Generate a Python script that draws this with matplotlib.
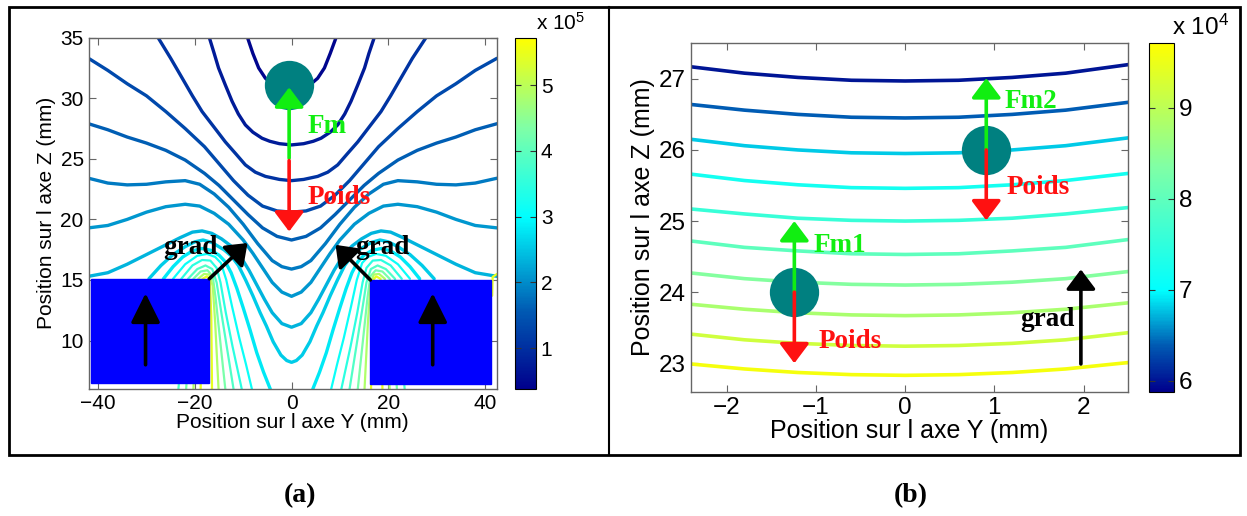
import matplotlib
matplotlib.use('Agg')
import matplotlib.pyplot as plt
import numpy as np
from matplotlib.colors import LinearSegmentedColormap, Normalize
from matplotlib.cm import ScalarMappable
from matplotlib.patches import Rectangle
from matplotlib.lines import Line2D

plt.rcParams['font.family'] = ['Liberation Sans', 'DejaVu Sans']
plt.rcParams['mathtext.fontset'] = 'custom'
plt.rcParams['mathtext.rm'] = 'Liberation Sans'
plt.rcParams['mathtext.default'] = 'regular'

# ---------- (a) contour lines, values in 1e5 ----------
left_levels = [0.45, 0.75, 1.05, 1.35, 1.6, 1.85, 2.1, 2.35, 2.55,
               2.8, 2.8, 3.1, 3.1, 3.45, 3.45, 3.85, 3.85, 4.3, 4.3,
               4.85, 4.85, 5.45, 5.45, 5.45]
left_y = [
    [-9.1, -8.0, -6.8, -5.4, -3.5, -1.5, 0, 1.5, 3.5, 5.4, 6.8, 8.0, 9.2],
    [-17.0, -16.0, -15.1, -13.7, -12.3, -11.0, -9.55, -8.0, -6.1, -4.5, -2.5, 0,
     2.5, 4.5, 6.1, 8.0, 9.55, 11.0, 12.3, 13.7, 15.1, 16.0, 17.1],
    [-27.6, -25.0, -22.6, -20.5, -18.5, -16.0, -13.7, -11.5, -9.55, -7.5, -5.4, -2.5, 0,
     2.5, 5.4, 7.5, 9.55, 11.5, 13.7, 16.0, 18.5, 20.5, 22.6, 25.0, 27.8],
    [-42, -38, -34, -30, -26, -22, -18, -15, -12, -9, -6, -3, 0,
     3, 6, 9, 12, 15, 18, 22, 26, 30, 34, 38, 42.5],
    [-42, -38, -34, -30, -26, -22, -18, -15, -12, -9, -6, -3, 0,
     3, 6, 9, 12, 15, 18, 22, 26, 30, 34, 38, 42.5],
    [-42, -38, -34, -30, -26, -22, -19, -16, -13, -10, -7, -4, -2, 0,
     2, 4, 7, 10, 13, 16, 19, 22, 26, 30, 34, 38, 42.5],
    [-42, -38, -34, -30, -26, -22, -19, -16, -13, -10, -8, -6, -4, -2, 0,
     2, 4, 6, 8, 10, 13, 16, 19, 22, 26, 30, 34, 38, 42.5],
    [-42, -38, -34, -30, -26, -23, -20.5, -18.5, -16.5, -14.5, -12.5, -10.5, -8.8, -7.2, -5.6, -4, -2, 0,
     2, 4, 5.6, 7.2, 8.8, 10.5, 12.5, 14.5, 16.5, 18.5, 20.5, 23, 26, 30, 34, 38, 42.5],
    [-29.5, -27, -24.5, -22, -20, -18.3, -16.5, -14, -12.5, -11, -9.5, -8, -6.5, -5.2, -3.8, -2.2, -1, 0,
     1, 2.2, 3.8, 5.2, 6.5, 8, 9.5, 11, 12.5, 14, 16.5, 18.3, 20, 22, 24.5, 27, 29.5],
    [-26.5, -24.5, -22.5, -20.5, -18.6, -16.7, -15.0, -13.7, -12.5, -11.3, -10.0, -8.6, -7.2, -5.8, -4.4],
    [26.5, 24.5, 22.5, 20.5, 18.6, 16.7, 15.0, 13.7, 12.5, 11.3, 10.0, 8.6, 7.2, 5.8, 4.4],
    [-24.5, -22.0, -19.5, -17.5, -15.8, -14.6, -13.5, -12.3, -10.8, -9.4, -8.2],
    [24.5, 22.0, 19.5, 17.5, 15.8, 14.6, 13.5, 12.3, 10.8, 9.4, 8.2],
    [-22.8, -20.5, -18.5, -16.8, -15.5, -14.7, -13.6, -12.2, -10.3],
    [22.8, 20.5, 18.5, 16.8, 15.5, 14.7, 13.6, 12.2, 10.3],
    [-23.4, -21.4, -19.5, -17.8, -16.4, -15.5, -14.6, -13.4, -12.0],
    [23.4, 21.4, 19.5, 17.8, 16.4, 15.5, 14.6, 13.4, 12.0],
    [-21.8, -20.3, -18.8, -17.4, -16.3, -15.7, -14.9, -13.7],
    [21.8, 20.3, 18.8, 17.4, 16.3, 15.7, 14.9, 13.7],
    [-20.3, -19.3, -18.1, -17.0, -16.3, -15.8, -15.1],
    [20.3, 19.3, 18.1, 17.0, 16.3, 15.8, 15.1],
    [-18.8, -18.4, -17.5, -16.9, -16.6, -16.45],
    [18.8, 18.4, 17.5, 16.9, 16.6, 16.45],
    [41.5, 41.6, 42.5],
]
left_z = [
    [35.0, 33.7, 32.5, 31.65, 31.0, 30.75, 30.7, 30.75, 31.0, 31.65, 32.5, 33.7, 35.0],
    [35.0, 33.7, 32.5, 31.1, 29.75, 28.7, 27.8, 27.2, 26.7, 26.45, 26.25, 26.15,
     26.25, 26.45, 26.7, 27.2, 27.8, 28.7, 29.75, 31.1, 32.5, 33.7, 35.0],
    [35.0, 33.3, 31.65, 30.2, 28.9, 27.6, 26.4, 25.4, 24.5, 23.9, 23.55, 23.3, 23.2,
     23.3, 23.55, 23.9, 24.5, 25.4, 26.4, 27.6, 28.9, 30.2, 31.65, 33.3, 35.0],
    [33.3, 32.3, 31.2, 30.2, 28.9, 27.5, 26.0, 24.6, 23.2, 22.0, 21.1, 20.7, 20.6,
     20.7, 21.1, 22.0, 23.2, 24.6, 26.0, 27.5, 28.9, 30.2, 31.2, 32.3, 33.3],
    [27.9, 27.4, 26.8, 26.3, 25.7, 24.9, 23.8, 22.8, 21.6, 20.4, 19.3, 18.6, 18.3,
     18.6, 19.3, 20.4, 21.6, 22.8, 23.8, 24.9, 25.7, 26.3, 26.8, 27.4, 27.9],
    [23.4, 23.0, 22.85, 22.9, 23.1, 23.2, 22.9, 22.1, 21.0, 19.6, 18.0, 16.6, 16.1, 15.9,
     16.1, 16.6, 18.0, 19.6, 21.0, 22.1, 22.9, 23.2, 23.1, 22.9, 22.85, 23.0, 23.4],
    [19.3, 19.5, 20.0, 20.6, 21.05, 21.25, 21.1, 20.5, 19.6, 18.3, 17.2, 16.0, 14.8, 14.0, 13.65,
     14.0, 14.8, 16.0, 17.2, 18.3, 19.6, 20.5, 21.1, 21.25, 21.05, 20.6, 20.0, 19.5, 19.3],
    [15.3, 15.6, 16.3, 17.1, 17.9, 18.5, 18.95, 19.05, 18.85, 18.4, 17.8, 16.9, 15.8, 14.6, 13.4, 12.3, 11.4, 11.1,
     11.4, 12.3, 13.4, 14.6, 15.8, 16.9, 17.8, 18.4, 18.85, 19.05, 18.95, 18.5, 17.9, 17.1, 16.3, 15.6, 15.3],
    [15.1, 16.2, 17.1, 17.75, 18.15, 18.3, 18.1, 17.5, 17.0, 16.2, 15.0, 13.7, 12.3, 11.2, 9.9, 8.8, 8.35, 8.2,
     8.35, 8.8, 9.9, 11.2, 12.3, 13.7, 15.0, 16.2, 17.0, 17.5, 18.1, 18.3, 18.15, 17.75, 17.1, 16.2, 15.1],
    [15.1, 16.1, 16.9, 17.4, 17.6, 17.45, 17.05, 16.5, 15.6, 14.3, 12.7, 10.9, 9.0, 7.4, 6.0],
    [15.1, 16.1, 16.9, 17.4, 17.6, 17.45, 17.05, 16.5, 15.6, 14.3, 12.7, 10.9, 9.0, 7.4, 6.0],
    [15.1, 16.3, 17.0, 17.15, 16.9, 16.4, 15.0, 12.8, 10.2, 8.0, 6.0],
    [15.1, 16.3, 17.0, 17.15, 16.9, 16.4, 15.0, 12.8, 10.2, 8.0, 6.0],
    [15.1, 16.2, 16.65, 16.6, 16.0, 14.8, 12.3, 9.5, 6.0],
    [15.1, 16.2, 16.65, 16.6, 16.0, 14.8, 12.3, 9.5, 6.0],
    [6.0, 15.1, 15.9, 16.2, 15.9, 14.8, 12.5, 9.5, 6.0],
    [6.0, 15.1, 15.9, 16.2, 15.9, 14.8, 12.5, 9.5, 6.0],
    [6.0, 15.1, 15.7, 15.8, 15.3, 13.5, 10.5, 6.0],
    [6.0, 15.1, 15.7, 15.8, 15.3, 13.5, 10.5, 6.0],
    [6.0, 15.1, 15.5, 15.45, 14.5, 11.5, 6.0],
    [6.0, 15.1, 15.5, 15.45, 14.5, 11.5, 6.0],
    [6.0, 15.1, 15.3, 15.0, 12.0, 6.0],
    [6.0, 15.1, 15.3, 15.0, 12.0, 6.0],
    [13.7, 15.25, 15.5],
]

# magnets (Y0, Z0, Y1, Z1)
magnets = [(-41.5, 6.5, -17.0, 15.1), (16.3, 6.4, 41.3, 15.0)]
bead_a = (-0.6, 31.1)
arrows_a = [((-0.5, 25.05), (-0.5, 30.9), '#11ee11'),
            ((-0.5, 24.85), (-0.5, 19.0), '#ff1111'),
            ((-17.0, 15.1), (-9.1, 18.05), 'black'),
            ((16.3, 15.0), (9.1, 17.9), 'black'),
            ((-30.2, 8.0), (-30.2, 13.9), 'black'),
            ((29.2, 8.0), (29.2, 13.9), 'black')]
labels_a = [('Fm', 3.3, 27.7, '#11ee11', 'left'),
            ('Poids', 3.3, 21.8, '#ff1111', 'left'),
            ('grad', -20.9, 17.7, 'black', 'center'),
            ('grad', 18.8, 17.7, 'black', 'center')]

# ---------- (b) contour lines, values in 1e4 ----------
right_levels = [6.0, 6.4, 6.8, 7.2, 7.6, 8.0, 8.4, 8.8, 9.2, 9.6]
right_y = [-2.4, -1.8, -1.2, -0.6, 0, 0.6, 1.2, 1.8, 2.5]
right_z = [
    [27.17, 27.08, 27.02, 26.98, 26.97, 26.98, 27.02, 27.08, 27.20],
    [26.64, 26.56, 26.50, 26.46, 26.45, 26.46, 26.50, 26.56, 26.67],
    [26.15, 26.06, 26.00, 25.96, 25.95, 25.96, 26.00, 26.06, 26.17],
    [25.66, 25.57, 25.51, 25.47, 25.46, 25.47, 25.51, 25.57, 25.67],
    [25.17, 25.10, 25.04, 25.01, 25.00, 25.01, 25.04, 25.10, 25.19],
    [24.72, 24.63, 24.58, 24.54, 24.53, 24.54, 24.58, 24.63, 24.74],
    [24.27, 24.19, 24.14, 24.11, 24.10, 24.11, 24.14, 24.19, 24.29],
    [23.83, 23.76, 23.71, 23.68, 23.67, 23.68, 23.71, 23.76, 23.85],
    [23.41, 23.33, 23.28, 23.25, 23.24, 23.25, 23.28, 23.33, 23.43],
    [22.99, 22.92, 22.87, 22.84, 22.83, 22.84, 22.87, 22.92, 23.01],
]
beads_b = [(-1.24, 24.0), (0.91, 26.0)]
arrows_b = [((-1.24, 24.0), (-1.24, 25.0), '#11ee11'),
            ((-1.24, 24.0), (-1.24, 23.0), '#ff1111'),
            ((0.91, 26.0), (0.91, 27.01), '#11ee11'),
            ((0.91, 26.0), (0.91, 25.01), '#ff1111'),
            ((1.97, 22.99), (1.97, 24.32), 'black')]
labels_b = [('Fm1', -1.02, 24.65, '#11ee11', 'left'),
            ('Poids', -0.97, 23.3, '#ff1111', 'left'),
            ('Fm2', 1.12, 26.68, '#11ee11', 'left'),
            ('Poids', 1.14, 25.47, '#ff1111', 'left'),
            ('grad', 1.9, 23.62, 'black', 'right')]


def make_cmap(c):
    nodes = [(0.0, (0.0, 0.0, 0.55)), (c * 0.45, (0.0, 0.35, 0.7)), (c, (0.0, 1.0, 1.0)),
             (c + (1 - c) * 0.5, (0.5, 1.0, 0.65)), (1.0, (1.0, 1.0, 0.0))]
    return LinearSegmentedColormap.from_list('mag', nodes)


def style_axes(ax, fs):
    for s in ax.spines.values():
        s.set_color('0.4')
        s.set_linewidth(1.0)
    ax.tick_params(direction='in', top=True, right=True, color='0.4', length=5,
                   labelsize=fs, labelcolor='black')


def draw_arrow(ax, tail, tip, color, hl=0.6, hw=0.45):
    ax.annotate('', xy=tip, xytext=tail,
                arrowprops=dict(arrowstyle='-|>,head_length=%s,head_width=%s' % (hl, hw),
                                color=color, lw=2.6, shrinkA=0, shrinkB=0, mutation_scale=20),
                zorder=6)


W, H = 1247, 516
fig = plt.figure(figsize=(W / 100, H / 100), dpi=100)
ax1 = fig.add_axes([88.5 / W, (H - 389) / H, 408.5 / W, 351.3 / H])
cax1 = fig.add_axes([515 / W, (H - 389) / H, 21 / W, 351.3 / H])
ax2 = fig.add_axes([690.8 / W, (H - 391.7) / H, 437.4 / W, 348.4 / H])
cax2 = fig.add_axes([1149 / W, (H - 391.7) / H, 25 / W, 348.4 / H])

serif = ['Liberation Serif', 'DejaVu Serif']

# ---- panel (a)
cmap1 = make_cmap(0.49)
norm1 = Normalize(0.38, 5.72)
for lev, ys, zs in zip(left_levels, left_y, left_z):
    lw = 2.4 if lev < 3.0 else 1.6
    ax1.plot(ys, zs, color=cmap1(norm1(lev)), lw=lw, solid_capstyle='round',
             solid_joinstyle='round', zorder=2)
for y0, z0, y1, z1 in magnets:
    ax1.add_patch(Rectangle((y0, z0), y1 - y0, z1 - z0, color='#0000ff', zorder=4))
ax1.plot(*bead_a, 'o', ms=35.5, color='#008080', mec='none', zorder=5)
for i, (tail, tip, col) in enumerate(arrows_a):
    if i >= 4:
        draw_arrow(ax1, tail, tip, col, hl=0.9, hw=0.45)
    else:
        draw_arrow(ax1, tail, tip, col)
for txt, x, y, col, ha in labels_a:
    ax1.text(x, y, txt, color=col, ha=ha, va='center', fontsize=19.5,
             fontweight='bold', family=serif, zorder=7)
ax1.set_xlim(-42, 42.5)
ax1.set_ylim(6.0, 35)
ax1.set_xticks([-40, -20, 0, 20, 40])
ax1.set_yticks([10, 15, 20, 25, 30, 35])
style_axes(ax1, 15)
ax1.set_xlabel('Position sur l axe Y (mm)', fontsize=15, labelpad=0)
ax1.set_ylabel('Position sur l axe Z (mm)', fontsize=15, labelpad=3)

cb1 = fig.colorbar(ScalarMappable(norm=norm1, cmap=cmap1), cax=cax1)
cb1.set_ticks([1, 2, 3, 4, 5])
cax1.tick_params(direction='in', left=True, right=True, length=4, labelsize=15, color='0.2')
cb1.outline.set_linewidth(0.8)
cax1.text(1.0, 1.01, 'x 10$^5$', transform=cax1.transAxes, ha='left', va='bottom', fontsize=15)

# ---- panel (b)
cmap2 = make_cmap(0.29)
norm2 = Normalize(5.88, 9.71)
for lev, zs in zip(right_levels, right_z):
    ax2.plot(right_y, zs, color=cmap2(norm2(lev)), lw=2.6, solid_capstyle='round', zorder=2)
for b in beads_b:
    ax2.plot(*b, 'o', ms=35.5, color='#008080', mec='none', zorder=5)
for tail, tip, col in arrows_b:
    draw_arrow(ax2, tail, tip, col)
for txt, x, y, col, ha in labels_b:
    ax2.text(x, y, txt, color=col, ha=ha, va='center', fontsize=19.5,
             fontweight='bold', family=serif, zorder=7)
ax2.set_xlim(-2.4, 2.5)
ax2.set_ylim(22.6, 27.5)
ax2.set_xticks([-2, -1, 0, 1, 2])
ax2.set_yticks([23, 24, 25, 26, 27])
style_axes(ax2, 17.5)
ax2.set_xlabel('Position sur l axe Y (mm)', fontsize=18, labelpad=0)
ax2.set_ylabel('Position sur l axe Z (mm)', fontsize=18, labelpad=3)

cb2 = fig.colorbar(ScalarMappable(norm=norm2, cmap=cmap2), cax=cax2)
cb2.set_ticks([6, 7, 8, 9])
cax2.tick_params(direction='in', left=True, right=True, length=4, labelsize=17.5, color='0.2')
cb2.outline.set_linewidth(0.8)
cax2.text(0.9, 1.01, 'x 10$^4$', transform=cax2.transAxes, ha='left', va='bottom', fontsize=17.5)

# ---- outer frame and captions
fig.add_artist(Rectangle((9 / W, (H - 455) / H), 1231 / W, 448 / H, transform=fig.transFigure,
                         fill=False, lw=2, ec='black'))
fig.add_artist(Line2D([608.5 / W, 608.5 / W], [(H - 455) / H, (H - 7) / H],
                      transform=fig.transFigure, color='black', lw=1.5))
fig.text(300 / W, (H - 496) / H, '(a)', ha='center', va='center', fontsize=20,
         fontweight='bold', family=serif)
fig.text(911 / W, (H - 496) / H, '(b)', ha='center', va='center', fontsize=20,
         fontweight='bold', family=serif)

fig.savefig('out.png', dpi=100)
